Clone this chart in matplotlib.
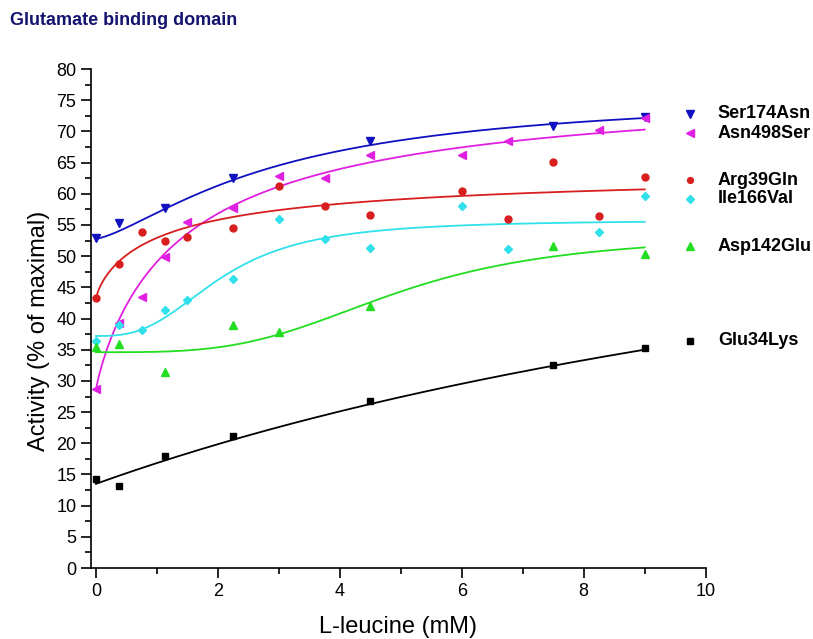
import numpy as np
import matplotlib
matplotlib.use("Agg")
import matplotlib.pyplot as plt
from matplotlib.ticker import MultipleLocator

plt.rcParams["font.family"] = ["Liberation Sans", "DejaVu Sans"]

# L-leucine concentrations (mM)
x_full = [0, 0.375, 0.75, 1.125, 1.5, 2.25, 3, 3.75, 4.5, 6, 6.75, 7.5, 8.25, 9]
x_sparse = [0, 0.375, 1.125, 2.25, 4.5, 7.5, 9]
x_green = [0, 0.375, 1.125, 2.25, 3, 4.5, 7.5, 9]
x_asn = [0, 0.375, 0.75, 1.125, 1.5, 2.25, 3, 3.75, 4.5, 6, 6.75, 8.25, 9]
x_ile = [0, 0.375, 0.75, 1.125, 1.5, 2.25, 3, 3.75, 4.5, 6, 6.75, 8.25, 9]

ser174asn = [52.9, 55.3, 57.7, 62.6, 68.4, 70.8, 72.3]
asn498ser = [28.7, 39.3, 43.4, 49.8, 55.5, 57.8, 62.8, 62.5, 66.2, 66.2, 68.5, 70.2, 72.2]
arg39gln = [43.3, 48.8, 53.9, 52.4, 53.1, 54.5, 61.2, 58.1, 56.6, 60.4, 56.0, 65.1, 56.4, 62.7]
ile166val = [36.4, 38.9, 38.1, 41.4, 42.9, 46.4, 55.9, 52.7, 51.3, 58.0, 51.2, 53.9, 59.6]
asp142glu = [35.5, 35.9, 31.4, 38.9, 37.9, 42.0, 51.6, 50.4]
glu34lys = [14.2, 13.2, 18.0, 21.2, 26.8, 32.6, 35.3]

# Hill fit parameters: baseline, amplitude, K (mM), Hill coefficient
fit_ser = [52.8, 23.5, 3.0, 1.4]
fit_asn = [28.6, 50.0, 1.5, 0.9]
fit_arg = [43.2, 21.0, 1.2, 0.8]
fit_ile = [37.2, 18.6, 2.05, 2.8]
fit_asp = [34.6, 18.8, 4.9, 3.5]
fit_glu = [13.5, 67.4, 19.2, 1.0]


def hill(x, base, amp, k, n):
    return base + amp * x ** n / (k ** n + x ** n)


series = [
    ("Ser174Asn", x_sparse, ser174asn, fit_ser, "#1010c0", "v", 6, 72.8),
    ("Asn498Ser", x_asn, asn498ser, fit_asn, "#e020e0", "<", 6, 69.7),
    ("Arg39Gln", x_full, arg39gln, fit_arg, "#d81e1e", "o", 5, 62.2),
    ("Ile166Val", x_ile, ile166val, fit_ile, "#30e0ea", "D", 4.5, 59.2),
    ("Asp142Glu", x_green, asp142glu, fit_asp, "#22dd22", "^", 6, 51.6),
    ("Glu34Lys", x_sparse, glu34lys, fit_glu, "#000000", "s", 4.5, 36.4),
]

fig = plt.figure(figsize=(8.13, 6.39), dpi=100)
ax = fig.add_axes([0.112, 0.111, 0.756, 0.781])

xs = np.linspace(0, 9, 300)
for name, x, y, fit, color, marker, ms, ly in series:
    ax.plot(xs, hill(xs, *fit), color=color, lw=1.3, zorder=2)
    ax.plot(x, y, linestyle="none", marker=marker, color=color, ms=ms, zorder=3)
    # legend entry to the right of the plot area
    ax.plot([9.75], [ly], linestyle="none", marker=marker, color=color, ms=ms - 0.8, clip_on=False)
    ax.text(10.2, ly, name, fontsize=13, fontweight="bold", va="center", ha="left")

ax.set_xlim(-0.08, 10)
ax.set_ylim(0, 80)
ax.xaxis.set_major_locator(MultipleLocator(2))
ax.xaxis.set_minor_locator(MultipleLocator(1))
ax.yaxis.set_major_locator(MultipleLocator(5))
ax.yaxis.set_minor_locator(MultipleLocator(2.5))
ax.tick_params(which="major", length=7, width=1.2, labelsize=13, direction="out")
ax.tick_params(which="minor", length=4, width=1.2, direction="out")
ax.spines["top"].set_visible(False)
ax.spines["right"].set_visible(False)
ax.spines["left"].set_linewidth(1.2)
ax.spines["bottom"].set_linewidth(1.2)

ax.set_xlabel("L-leucine (mM)", fontsize=17, labelpad=12)
fig.text(0.048, 0.482, "Activity (% of maximal)", fontsize=17, rotation=90,
         ha="center", va="center")

fig.text(0.012, 0.968, "Glutamate binding domain", fontsize=13, fontweight="bold",
         color="#14146e", va="center", ha="left")

fig.savefig("out.png", dpi=100)
